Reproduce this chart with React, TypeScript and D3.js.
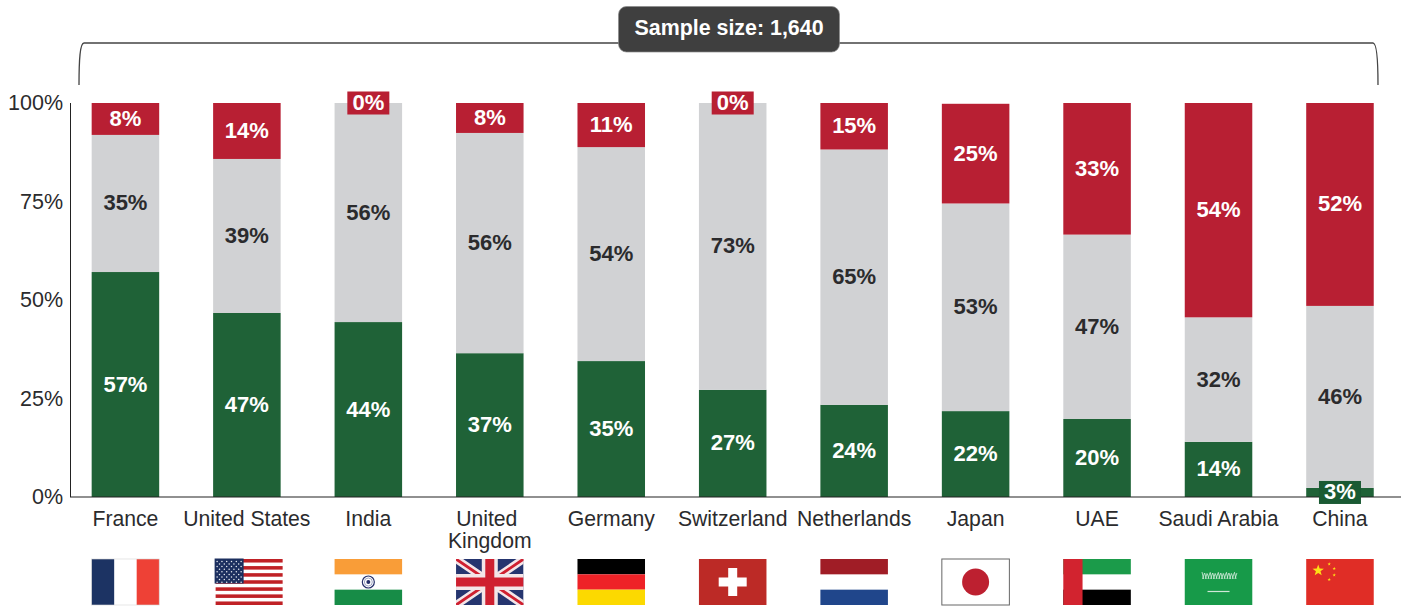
import React from "react";
import * as d3 from "d3";

const countries = ["France", "United States", "India", "United Kingdom", "Germany", "Switzerland", "Netherlands", "Japan", "UAE", "Saudi Arabia", "China"];
const greenValues = [57.1, 46.7, 44.4, 36.5, 34.5, 27.2, 23.4, 21.8, 19.8, 14.0, 2.3];
const grayValues = [34.8, 39.1, 55.6, 55.9, 54.3, 72.8, 64.8, 52.7, 46.8, 31.6, 46.2];
const redValues = [8.1, 14.2, 0, 7.6, 11.2, 0, 11.8, 25.3, 33.4, 54.4, 51.5];
const greenLabels = ["57%", "47%", "44%", "37%", "35%", "27%", "24%", "22%", "20%", "14%", "3%"];
const grayLabels = ["35%", "39%", "56%", "56%", "54%", "73%", "65%", "53%", "47%", "32%", "46%"];
const redLabels = ["8%", "14%", "0%", "8%", "11%", "0%", "15%", "25%", "33%", "54%", "52%"];
const yTicks = [0, 25, 50, 75, 100];
const sampleLabel = "Sample size: 1,640";

const W = 1405, H = 608;
const FONT = "'Liberation Sans', Arial, sans-serif";
const GREEN = "#1f6237", GRAY = "#d1d2d4", RED = "#b81f33", INK = "#2b2b2d";

const x = d3.scaleBand<string>().domain(countries).range([64.7, 1400.7]).paddingInner(0.444).paddingOuter(0.222);
const y = d3.scaleLinear().domain([0, 100]).range([497, 103]);

function Flag({ name, fx, fy, w, h }: { name: string; fx: number; fy: number; w: number; h: number }) {
  const R = (a: number, b: number, c: number, d: number, fill: string) => (
    <rect x={fx + a * w} y={fy + b * h} width={c * w} height={d * h} fill={fill} />
  );
  const cx = fx + w / 2, cy = fy + h / 2;
  if (name === "France") return <g>{R(0, 0, 1 / 3, 1, "#1c3363")}{R(2 / 3, 0, 1 / 3, 1, "#ee4136")}<rect x={fx} y={fy} width={w} height={h} fill="none" stroke="#d5d5d5" strokeWidth={0.6} /></g>;
  if (name === "United States") {
    const ox = fx + 2.5;
    const stripes = d3.range(0, 13).filter((i) => i % 2 === 0);
    const dots: React.ReactNode[] = [];
    d3.range(0, 9).forEach((r) => {
      d3.range(0, r % 2 ? 5 : 6).forEach((c) => {
        dots.push(<circle key={r + "-" + c} cx={fx + 4 + (r % 2 ? 2.4 : 0) + c * 4.8} cy={fy + 2.4 + r * 2.6} r={0.75} fill="#e8ecf2" />);
      });
    });
    return <g>{stripes.map((i) => <rect key={i} x={ox} y={fy + (i * h) / 13} width={w - 0.5} height={h / 13} fill="#c02126" />)}<rect x={fx + 1.5} y={fy - 0.5} width={29} height={25} fill="#1c2f5f" />{dots}</g>;
  }
  if (name === "India") return <g>{R(0, 0, 1, 1 / 3, "#f99d38")}{R(0, 2 / 3, 1, 1 / 3, "#178c47")}<circle cx={cx} cy={cy} r={6} fill="#fff" stroke="#26306b" strokeWidth={1.2} /><circle cx={cx} cy={cy} r={2} fill="#26306b" /><circle cx={cx} cy={cy} r={4} fill="none" stroke="#8a8fb5" strokeWidth={0.8} /></g>;
  if (name === "United Kingdom") {
    const d1 = `M${fx},${fy}L${fx + w},${fy + h}M${fx + w},${fy}L${fx},${fy + h}`;
    return <g><clipPath id="uk"><rect x={fx} y={fy} width={w} height={h} /></clipPath><g clipPath="url(#uk)"><rect x={fx} y={fy} width={w} height={h} fill="#25356f" /><path d={d1} stroke="#f3e6e8" strokeWidth={8} /><path d={d1} stroke="#cf2030" strokeWidth={2.8} /><rect x={cx - 8} y={fy} width={16} height={h} fill="#f3e6e8" /><rect x={fx} y={cy - 8} width={w} height={16} fill="#f3e6e8" /><rect x={cx - 4.5} y={fy} width={9} height={h} fill="#cf2030" /><rect x={fx} y={cy - 4.5} width={w} height={9} fill="#cf2030" /></g></g>;
  }
  if (name === "Germany") return <g>{R(0, 0, 1, 1 / 3, "#000")}{R(0, 1 / 3, 1, 1 / 3, "#ee2227")}{R(0, 2 / 3, 1, 1 / 3, "#fcd900")}</g>;
  if (name === "Switzerland") return <g>{R(0, 0, 1, 1, "#bc2a26")}<rect x={cx - 4.5} y={cy - 14} width={9} height={28} fill="#fff" /><rect x={cx - 14} y={cy - 4.5} width={28} height={9} fill="#fff" /></g>;
  if (name === "Netherlands") return <g>{R(0, 0, 1, 1 / 3, "#a01d26")}{R(0, 2 / 3, 1, 1 / 3, "#20468b")}</g>;
  if (name === "Japan") return <g><rect x={fx} y={fy} width={w} height={h} fill="#fff" stroke="#666" strokeWidth={1} /><circle cx={cx} cy={cy} r={13.5} fill="#bd2030" /></g>;
  if (name === "UAE") return <g>{R(0, 0, 1, 1 / 3, "#1b9b4a")}{R(0, 2 / 3, 1, 1 / 3, "#000")}{R(0, 0, 0.285, 1, "#d2232f")}</g>;
  if (name === "Saudi Arabia") {
    const marks = d3.range(0, 13);
    return <g>{R(0, 0, 1, 1, "#179a49")}{marks.map((i) => <path key={i} d={`M${cx - 16.5 + i * 2.7},${fy + 13 + (i % 3)}l1.6,${7 - (i % 3)}M${cx - 16 + i * 2.7},${fy + 20}l2,-6`} stroke="#dff0e5" strokeWidth={0.75} fill="none" />)}<path d={`M${cx - 11},${fy + 32.5}H${cx + 11}`} stroke="#cfe8d8" strokeWidth={1.2} /></g>;
  }
  const star = (sx: number, sy: number, r: number, k: number) => {
    const pts = d3.range(0, 10).map((i) => {
      const a = -Math.PI / 2 + (i * Math.PI) / 5, q = i % 2 ? r * 0.4 : r;
      return `${sx + q * Math.cos(a)},${sy + q * Math.sin(a)}`;
    });
    return <polygon key={k} points={pts.join(" ")} fill="#fde016" />;
  };
  return <g>{R(0, 0, 1, 1, "#e02d26")}{star(fx + 12, fy + 11.5, 6, 0)}{star(fx + 23, fy + 5, 1.8, 1)}{star(fx + 28, fy + 9.5, 1.8, 2)}{star(fx + 28, fy + 16, 1.8, 3)}{star(fx + 23, fy + 20.5, 1.8, 4)}</g>;
}

export default function App() {
  const bw = x.bandwidth();
  const series = [
    { key: "green", vals: greenValues, labels: greenLabels, fill: GREEN, text: "#fff" },
    { key: "gray", vals: grayValues, labels: grayLabels, fill: GRAY, text: INK },
    { key: "red", vals: redValues, labels: redLabels, fill: RED, text: "#fff" },
  ];
  const stacked = d3.stack<number>().keys(["green", "gray", "red"]).value((i, k) =>
    k === "green" ? greenValues[i] : k === "gray" ? grayValues[i] : redValues[i]
  )(d3.range(countries.length));

  const bracket = d3.path();
  bracket.moveTo(79, 85);
  bracket.bezierCurveTo(79, 60, 80, 43, 84, 43);
  bracket.lineTo(1373, 43);
  bracket.bezierCurveTo(1377, 43, 1378, 60, 1378, 85);

  return (
    <svg width={W} height={H} viewBox={`0 0 ${W} ${H}`} style={{ position: "absolute", left: 0, top: 0, background: "#fff", fontFamily: FONT }}>
      <path d={bracket.toString()} fill="none" stroke="#444" strokeWidth={1.3} />
      <rect x={618.5} y={6.5} width={221} height={45.5} rx={8} fill="#3f3f3f" stroke="#8a8a8a" strokeWidth={0.7} />
      <text x={729} y={34.5} textAnchor="middle" fontSize={21.4} fontWeight={700} fill="#fff">{sampleLabel}</text>

      {stacked.map((layer, si) =>
        layer.map((seg, i) => (
          <rect key={si + "-" + i} x={x(countries[i])} y={y(seg[1])} width={bw} height={Math.max(0, y(seg[0]) - y(seg[1]))} fill={series[si].fill} />
        ))
      )}

      <line x1={70.5} x2={70.5} y1={y(100)} y2={y(0)} stroke="#222" strokeWidth={1} />
      <line x1={70} x2={1401} y1={y(0)} y2={y(0)} stroke="#222" strokeWidth={1.2} />
      {yTicks.map((t) => (
        <text key={t} x={63} y={y(t) + 7} textAnchor="end" fontSize={21.5} fill={INK}>{t}%</text>
      ))}

      {stacked.map((layer, si) =>
        layer.map((seg, i) => {
          const cx = (x(countries[i]) as number) + bw / 2;
          const cy = (y(seg[0]) + y(seg[1])) / 2;
          const s = series[si];
          const boxed = seg[1] - seg[0] < 4;
          return (
            <g key={si + "-" + i}>
              {boxed && <rect x={cx - 21} y={cy - 11.5} width={42} height={23} fill={si === 0 ? "#1a5a33" : RED} />}
              <text x={cx} y={cy + 7} textAnchor="middle" fontSize={22} fontWeight={700} fill={s.text}>{s.labels[i]}</text>
            </g>
          );
        })
      )}

      {countries.map((c) => {
        const cx = (x(c) as number) + bw / 2;
        const lines = c === "United Kingdom" ? ["United", "Kingdom"] : [c];
        return (
          <g key={c}>
            {lines.map((l, j) => (
              <text key={l} x={cx - (c === "United Kingdom" && j === 0 ? 3 : 0)} y={526 + j * 21.5} textAnchor="middle" fontSize={21.2} fill={INK}>{l}</text>
            ))}
            <Flag name={c} fx={x(c) as number} fy={559} w={bw} h={46} />
          </g>
        );
      })}
    </svg>
  );
}
